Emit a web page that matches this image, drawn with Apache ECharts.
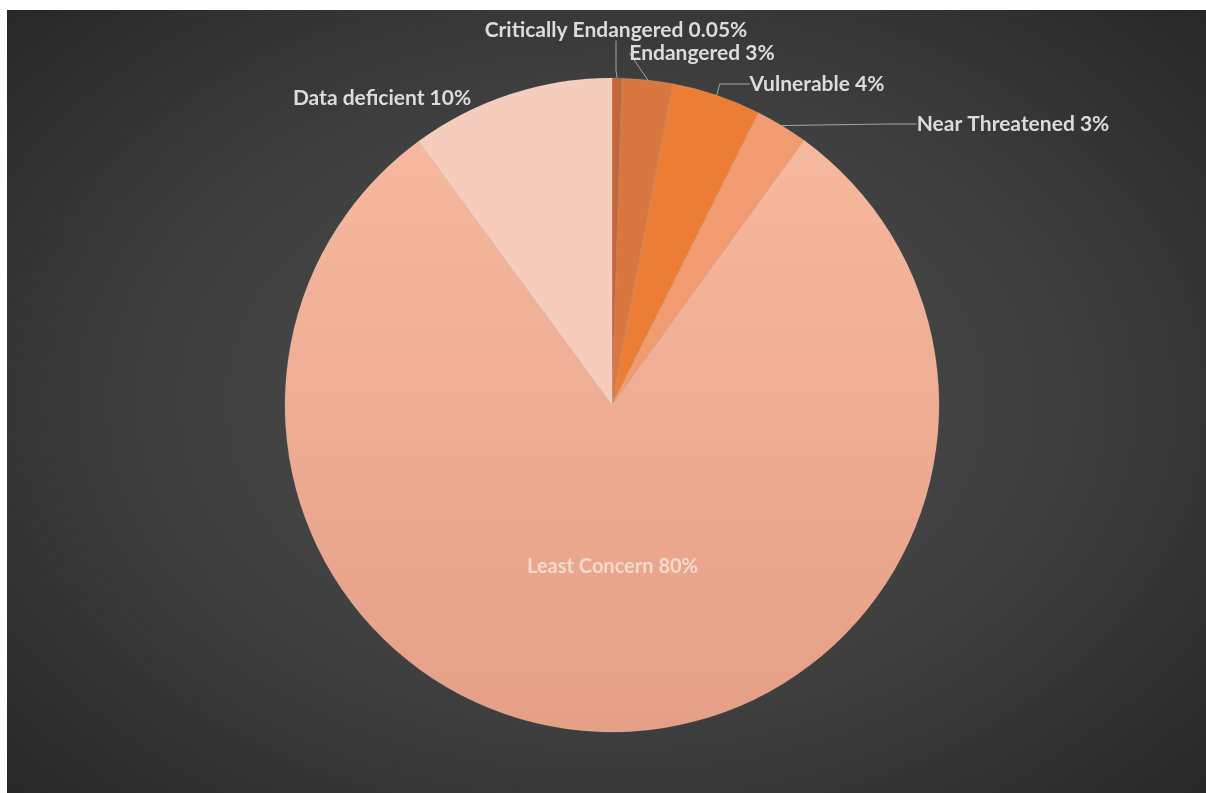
<!DOCTYPE html>
<html>
<head>
<meta charset="utf-8">
<script src="https://cdn.jsdelivr.net/npm/echarts@6/dist/echarts.min.js"></script>
<style>
  html, body { margin: 0; padding: 0; background: #fff; }
  #chart {
    position: absolute; left: 7px; top: 10px; width: 1199px; height: 783px;
    background: radial-gradient(ellipse 70% 75% at 50% 50%, #505050 0%, #3e3e3e 55%, #262626 100%);
  }
</style>
</head>
<body>
<div id="chart"></div>
<script>
// categories, slice sizes and the percent text printed on the labels
const categories = ['Critically Endangered', 'Endangered', 'Vulnerable', 'Near Threatened', 'Least Concern', 'Data deficient']
const values = [0.5, 2.5, 4.4, 2.6, 80, 10.1]
const pctLabels = ['0.05%', '3%', '4%', '3%', '80%', '10%']

const colors = ['#c4653a', '#d8773f', '#ec7d35', '#f39b70', null, '#f6cdbd']

// where the outside labels sit (chart px, text centre)
const labelPos = {
  0: [609, 20],
  1: [695, 43],
  2: [810, 74],
  3: [1006, 114],
  5: [375, 88],
}

const chart = echarts.init(document.getElementById('chart'))

const leastConcernFill = {
  type: 'linear', x: 0, y: 0, x2: 0, y2: 1,
  colorStops: [{ offset: 0, color: '#f6b89e' }, { offset: 1, color: '#e59f87' }],
}

const option = {
  animation: false,
  series: [{
    type: 'pie',
    center: [605, 395],
    radius: [0, 327],
    startAngle: 90,
    clockwise: true,
    avoidLabelOverlap: false,
    itemStyle: {
      borderColor: 'rgba(255,255,255,0.25)',
      borderWidth: 0.5,
    },
    label: {
      show: true,
      position: 'outside',
      color: '#dcdcdc',
      fontFamily: 'Lato',
      fontWeight: 'bold',
      fontSize: 21,
      formatter: p => `${p.name} ${pctLabels[p.dataIndex]}`,
    },
    labelLine: {
      show: true,
      lineStyle: { color: '#a6a6a6', width: 1 },
    },
    labelLayout(params) {
      const pos = labelPos[params.dataIndex]
      if (!pos)
        return {}
      return { x: pos[0], y: pos[1], align: 'center', verticalAlign: 'middle' }
    },
    data: categories.map((name, i) => {
      const item = { name, value: values[i], itemStyle: { color: colors[i] || leastConcernFill } }
      if (name === 'Least Concern') {
        item.label = { position: 'inside', color: '#f3dacd', fontWeight: 'bold', fontSize: 20, offset: [0, -5] }
        item.labelLine = { show: false }
      }
      if (name === 'Data deficient')
        item.labelLine = { show: false }
      return item
    }),
  }],
}

chart.setOption(option)
</script>
</body>
</html>
